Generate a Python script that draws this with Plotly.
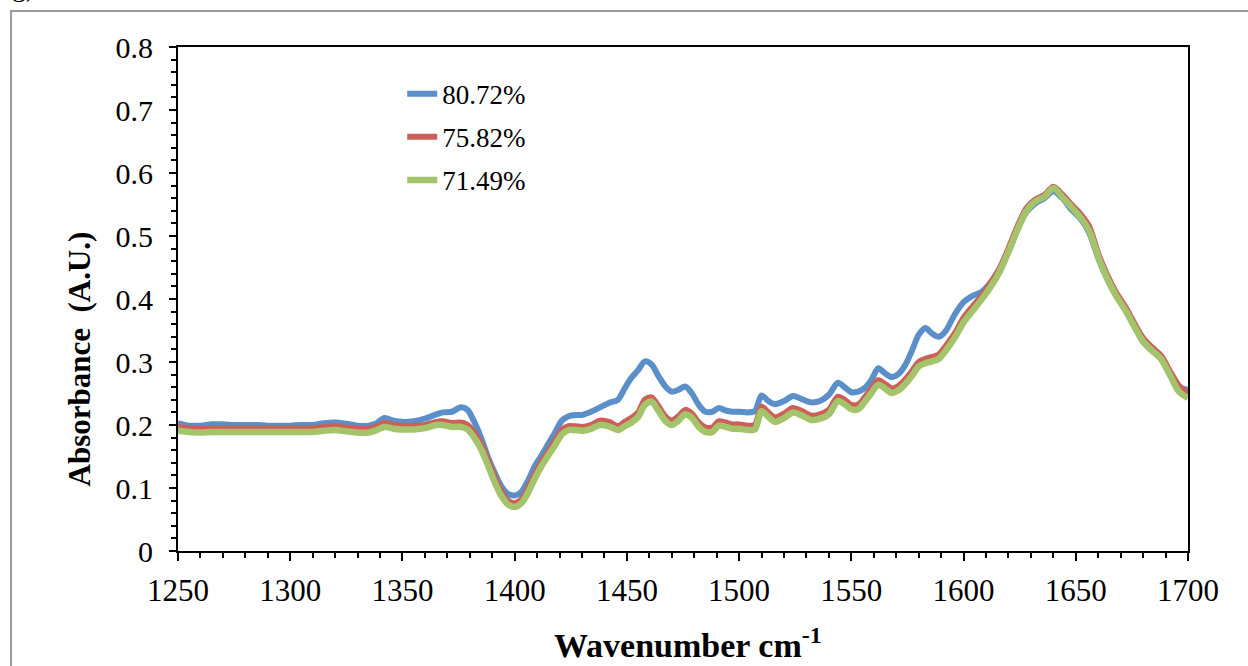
import plotly.graph_objects as go

# Wavenumber grid (cm-1)
wavenumber = [1250, 1255, 1260, 1265, 1270, 1275, 1280, 1285, 1290, 1295, 1300, 1305, 1310,
              1315, 1320, 1325, 1330, 1335, 1338, 1342, 1346, 1350, 1355, 1360, 1365, 1368,
              1372, 1376, 1379, 1382, 1385, 1388, 1391, 1394, 1397, 1400, 1403, 1406, 1409,
              1412, 1415, 1418, 1421, 1424, 1427, 1430, 1434, 1438, 1442, 1446, 1449, 1452,
              1455, 1458, 1461, 1464, 1467, 1470, 1473, 1476, 1479, 1482, 1485, 1488, 1491,
              1494, 1497, 1500, 1504, 1507, 1510, 1513, 1516, 1520, 1524, 1528, 1532, 1536,
              1540, 1544, 1547, 1550, 1553, 1556, 1559, 1562, 1565, 1568, 1571, 1574, 1577,
              1580, 1583, 1586, 1589, 1592, 1596, 1600, 1604, 1608, 1612, 1616, 1620, 1624,
              1628, 1632, 1636, 1640, 1644, 1648, 1652, 1656, 1660, 1664, 1668, 1672, 1676,
              1680, 1684, 1688, 1692, 1696, 1700]

abs_8072 = [0.203, 0.199, 0.199, 0.201, 0.201, 0.200, 0.200, 0.200, 0.199, 0.199, 0.199, 0.200, 0.200,
            0.203, 0.204, 0.202, 0.199, 0.199, 0.202, 0.211, 0.207, 0.205, 0.206, 0.210, 0.217, 0.220,
            0.221, 0.228, 0.224, 0.205, 0.180, 0.150, 0.125, 0.103, 0.091, 0.088, 0.094, 0.112, 0.135,
            0.152, 0.170, 0.188, 0.207, 0.214, 0.216, 0.216, 0.221, 0.228, 0.235, 0.240, 0.258, 0.275,
            0.287, 0.301, 0.296, 0.278, 0.262, 0.253, 0.256, 0.261, 0.250, 0.232, 0.221, 0.221, 0.227,
            0.223, 0.221, 0.221, 0.220, 0.222, 0.247, 0.238, 0.233, 0.238, 0.246, 0.241, 0.236, 0.238,
            0.248, 0.267, 0.260, 0.252, 0.253, 0.259, 0.272, 0.290, 0.282, 0.276, 0.281, 0.295, 0.318,
            0.343, 0.354, 0.345, 0.340, 0.349, 0.375, 0.395, 0.405, 0.411, 0.426, 0.447, 0.475, 0.510,
            0.538, 0.552, 0.560, 0.571, 0.560, 0.542, 0.528, 0.505, 0.465, 0.432, 0.405, 0.383, 0.358,
            0.332, 0.318, 0.305, 0.280, 0.260, 0.256]

abs_7582 = [0.197, 0.195, 0.194, 0.195, 0.195, 0.195, 0.195, 0.195, 0.195, 0.195, 0.195, 0.195, 0.195,
            0.197, 0.198, 0.196, 0.194, 0.194, 0.197, 0.203, 0.200, 0.199, 0.199, 0.200, 0.205, 0.206,
            0.203, 0.204, 0.200, 0.188, 0.170, 0.145, 0.118, 0.095, 0.080, 0.076, 0.082, 0.100, 0.122,
            0.142, 0.158, 0.175, 0.192, 0.198, 0.198, 0.197, 0.200, 0.207, 0.205, 0.198, 0.205, 0.211,
            0.220, 0.240, 0.244, 0.230, 0.214, 0.207, 0.214, 0.224, 0.218, 0.204, 0.196, 0.196, 0.206,
            0.204, 0.201, 0.201, 0.199, 0.200, 0.229, 0.220, 0.212, 0.218, 0.227, 0.222, 0.215, 0.217,
            0.224, 0.245, 0.240, 0.232, 0.232, 0.244, 0.258, 0.271, 0.265, 0.258, 0.262, 0.272, 0.285,
            0.300, 0.305, 0.308, 0.312, 0.325, 0.345, 0.370, 0.388, 0.405, 0.425, 0.448, 0.480, 0.515,
            0.544, 0.558, 0.565, 0.578, 0.566, 0.550, 0.535, 0.515, 0.472, 0.438, 0.410, 0.388, 0.362,
            0.338, 0.323, 0.310, 0.285, 0.262, 0.250]

abs_7149 = [0.191, 0.189, 0.188, 0.189, 0.189, 0.189, 0.189, 0.189, 0.189, 0.189, 0.189, 0.189, 0.189,
            0.191, 0.192, 0.190, 0.188, 0.188, 0.191, 0.197, 0.194, 0.193, 0.193, 0.195, 0.200, 0.200,
            0.197, 0.197, 0.193, 0.180, 0.162, 0.137, 0.110, 0.088, 0.074, 0.070, 0.076, 0.093, 0.115,
            0.135, 0.152, 0.168, 0.185, 0.192, 0.192, 0.191, 0.194, 0.200, 0.198, 0.192, 0.198, 0.204,
            0.213, 0.232, 0.237, 0.223, 0.207, 0.200, 0.207, 0.217, 0.211, 0.197, 0.189, 0.189, 0.199,
            0.197, 0.194, 0.194, 0.192, 0.193, 0.222, 0.213, 0.205, 0.211, 0.220, 0.215, 0.208, 0.210,
            0.217, 0.238, 0.233, 0.225, 0.225, 0.237, 0.251, 0.264, 0.258, 0.251, 0.255, 0.265, 0.278,
            0.293, 0.298, 0.301, 0.305, 0.318, 0.338, 0.363, 0.381, 0.399, 0.419, 0.443, 0.475, 0.510,
            0.540, 0.555, 0.562, 0.576, 0.562, 0.546, 0.530, 0.508, 0.467, 0.433, 0.405, 0.383, 0.357,
            0.333, 0.318, 0.305, 0.279, 0.253, 0.243]

series_names = ["80.72%", "75.82%", "71.49%"]
series_values = [abs_8072, abs_7582, abs_7149]
series_colors = ["#5b8fc9", "#cc5f58", "#a3c46a"]
series_widths = [6, 6, 6.5]

SERIF = "Times New Roman"

fig = go.Figure()
for i, (name, vals, col, w) in enumerate(zip(series_names, series_values, series_colors, series_widths)):
    fig.add_trace(go.Scatter(
        x=wavenumber, y=vals, name=name, mode="lines",
        line=dict(color=col, width=w, shape="spline", smoothing=0.8),
        legendgroup=f"g{i}",
    ))

fig.update_layout(
    width=1248, height=666,
    margin=dict(l=178, r=60, t=47, b=115),
    paper_bgcolor="white", plot_bgcolor="white",
    font=dict(family=SERIF, color="black"),
    showlegend=True,
    legend=dict(
        x=0.222, y=0.955, xanchor="left", yanchor="top",
        bgcolor="rgba(0,0,0,0)", borderwidth=0,
        font=dict(family=SERIF, size=27, color="black"),
        tracegroupgap=5,
    ),
    xaxis=dict(
        range=[1250, 1700], dtick=50, tick0=1250,
        showgrid=False, zeroline=False,
        showline=True, linecolor="black", linewidth=2, mirror=True,
        ticks="outside", ticklen=8, tickwidth=2, tickcolor="black",
        ticklabelstandoff=3,
        tickfont=dict(family=SERIF, size=31, color="black"),
        minor=dict(dtick=10, ticks="outside", ticklen=5, tickwidth=2, tickcolor="black", showgrid=False),
    ),
    yaxis=dict(
        range=[0, 0.8], dtick=0.1, tick0=0,
        showgrid=False, zeroline=False,
        showline=True, linecolor="black", linewidth=2, mirror=True,
        ticks="outside", ticklen=7, tickwidth=2, tickcolor="black",
        ticklabelstandoff=10,
        tickfont=dict(family=SERIF, size=30, color="black"),
        minor=dict(dtick=0.02, ticks="outside", ticklen=5, tickwidth=2, tickcolor="black", showgrid=False),
    ),
)

# Outer gray frame around the panel
fig.add_shape(type="rect", xref="paper", yref="paper",
              x0=-0.1653, x1=1.07, y0=-0.25, y1=1.0714,
              line=dict(color="#9a9a9a", width=2), fillcolor="rgba(0,0,0,0)", layer="below")

# Panel label
fig.add_annotation(text="g)", xref="paper", yref="paper", x=-0.166, y=1.085,
                   xanchor="left", yanchor="bottom", showarrow=False,
                   font=dict(family=SERIF, size=28, color="black"))

# Axis titles
fig.add_annotation(text="<b>Wavenumber cm<sup>-1</sup></b>", xref="paper", yref="paper",
                   x=0.505, y=-0.182, xanchor="center", yanchor="middle", showarrow=False,
                   font=dict(family=SERIF, size=34, color="black"))
fig.add_annotation(text="<b>Absorbance  (A.U.)</b>", xref="paper", yref="paper",
                   x=-0.0975, y=0.381, xanchor="center", yanchor="middle", textangle=-90,
                   showarrow=False, font=dict(family=SERIF, size=31, color="black"))

fig.write_html("out.html")
